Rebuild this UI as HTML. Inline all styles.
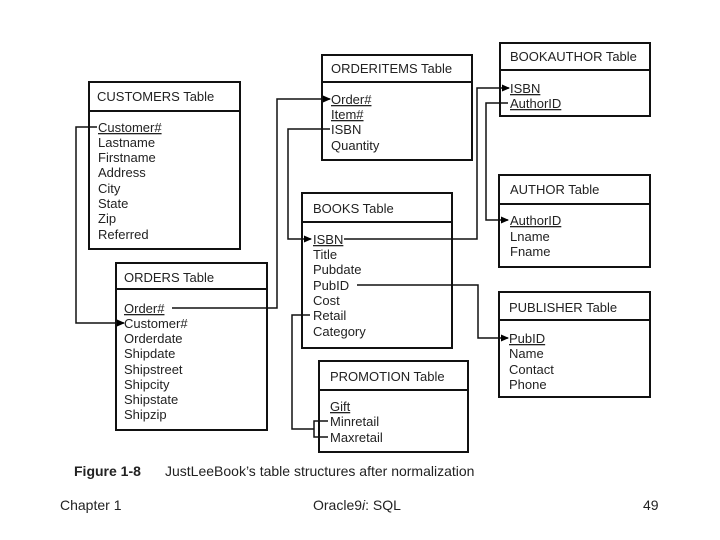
<!DOCTYPE html>
<html><head><meta charset="utf-8"><style>
html,body{margin:0;padding:0;background:#fff;}
svg{display:block;}
text{font-family:"Liberation Sans",sans-serif;font-size:13px;fill:#222;}
</style></head><body>
<svg width="720" height="540" viewBox="0 0 720 540" xmlns="http://www.w3.org/2000/svg">
<defs><marker id="a" markerWidth="8" markerHeight="8" refX="7" refY="4" orient="auto" markerUnits="userSpaceOnUse"><path d="M0,0.5 L8,4 L0,7.5 z" fill="#000"/></marker></defs>
<g fill="none" stroke="#111" stroke-width="2">
<rect x="89" y="82" width="151" height="167"/><line x1="89" y1="111" x2="240" y2="111"/>
<rect x="322" y="55" width="150" height="105"/><line x1="322" y1="82" x2="472" y2="82"/>
<rect x="500" y="43" width="150" height="73"/><line x1="500" y1="70" x2="650" y2="70"/>
<rect x="499" y="175" width="151" height="92"/><line x1="499" y1="204" x2="650" y2="204"/>
<rect x="302" y="193" width="150" height="155"/><line x1="302" y1="222" x2="452" y2="222"/>
<rect x="499" y="292" width="151" height="105"/><line x1="499" y1="320" x2="650" y2="320"/>
<rect x="116" y="263" width="151" height="167"/><line x1="116" y1="289" x2="267" y2="289"/>
<rect x="319" y="361" width="149" height="91"/><line x1="319" y1="390" x2="468" y2="390"/>
</g>
<g fill="none" stroke="#111" stroke-width="1.5">
<polyline points="97,127 76,127 76,323 124,323" marker-end="url(#a)"/>
<polyline points="172,308 277,308 277,99 330,99" marker-end="url(#a)"/>
<polyline points="330,129 288,129 288,239 311,239" marker-end="url(#a)"/>
<polyline points="344,239 477,239 477,88 509,88" marker-end="url(#a)"/>
<polyline points="508,103 486,103 486,220 508,220" marker-end="url(#a)"/>
<polyline points="357,285 478,285 478,338 508,338" marker-end="url(#a)"/>
<polyline points="310,315 292,315 292,429 314,429"/>
<polyline points="328,421 314,421 314,437 328,437"/>
</g>
<g>
<text x="97" y="101">CUSTOMERS Table</text>
<text x="98" y="132" text-decoration="underline">Customer#</text>
<text x="98" y="147">Lastname</text><text x="98" y="162">Firstname</text><text x="98" y="177">Address</text>
<text x="98" y="193">City</text><text x="98" y="208">State</text><text x="98" y="223">Zip</text><text x="98" y="239">Referred</text>

<text x="331" y="73">ORDERITEMS Table</text>
<text x="331" y="104" text-decoration="underline">Order#</text>
<text x="331" y="119" text-decoration="underline">Item#</text>
<text x="331" y="134">ISBN</text><text x="331" y="150">Quantity</text>

<text x="510" y="61">BOOKAUTHOR Table</text>
<text x="510" y="93" text-decoration="underline">ISBN</text>
<text x="510" y="108" text-decoration="underline">AuthorID</text>

<text x="510" y="194">AUTHOR Table</text>
<text x="510" y="225" text-decoration="underline">AuthorID</text>
<text x="510" y="241">Lname</text><text x="510" y="256">Fname</text>

<text x="313" y="213">BOOKS Table</text>
<text x="313" y="244" text-decoration="underline">ISBN</text>
<text x="313" y="259">Title</text><text x="313" y="274">Pubdate</text><text x="313" y="290">PubID</text>
<text x="313" y="305">Cost</text><text x="313" y="320">Retail</text><text x="313" y="336">Category</text>

<text x="509" y="312">PUBLISHER Table</text>
<text x="509" y="343" text-decoration="underline">PubID</text>
<text x="509" y="358">Name</text><text x="509" y="374">Contact</text><text x="509" y="389">Phone</text>

<text x="124" y="282">ORDERS Table</text>
<text x="124" y="313" text-decoration="underline">Order#</text>
<text x="124" y="328">Customer#</text><text x="124" y="343">Orderdate</text><text x="124" y="358">Shipdate</text>
<text x="124" y="374">Shipstreet</text><text x="124" y="389">Shipcity</text><text x="124" y="404">Shipstate</text><text x="124" y="419">Shipzip</text>

<text x="330" y="381">PROMOTION Table</text>
<text x="330" y="411" text-decoration="underline">Gift</text>
<text x="330" y="426">Minretail</text><text x="330" y="442">Maxretail</text>

<text x="74" y="476" font-weight="bold" style="font-size:14px">Figure 1-8</text>
<text x="165" y="476" style="font-size:14px">JustLeeBook’s table structures after normalization</text>

<text x="60" y="510" style="font-size:14px">Chapter 1</text>
<text x="313" y="510" style="font-size:14px">Oracle9<tspan font-style="italic">i</tspan>: SQL</text>
<text x="643" y="510" style="font-size:14px">49</text>
</g>
</svg>
</body></html>
